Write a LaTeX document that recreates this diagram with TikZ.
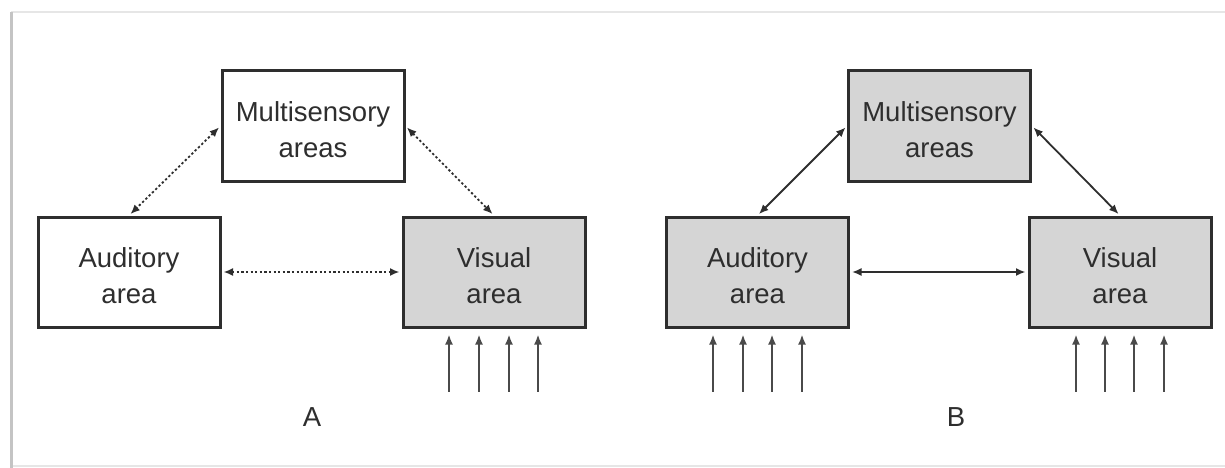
\documentclass[tikz,border=0pt]{standalone}
\usepackage{fontspec}
\setmainfont{Liberation Sans}
\usetikzlibrary{arrows.meta,calc}
\definecolor{ink}{HTML}{2E2E2E}
\definecolor{boxgray}{HTML}{D5D5D5}
\definecolor{framegray}{HTML}{C4C4C4}
\definecolor{framelight}{HTML}{E6E6E6}
\definecolor{inputgray}{HTML}{4A4A4A}
\tikzset{
  area/.style={draw=ink, line width=3pt, rectangle, minimum width=182pt, minimum height=110pt, inner sep=0pt},
  shaded/.style={area, fill=boxgray},
  plain/.style={area, fill=white},
  boxtext/.style={align=center, text=ink, font=\fontsize{27.5}{36}\selectfont, inner sep=0pt},
  tip/.style={-{Latex[length=10pt,width=8pt]}},
  dottedlink/.style={{Latex[length=9.5pt,width=8pt]}-{Latex[length=9.5pt,width=8pt]}, draw=ink, line width=1.8pt, dash pattern=on 2.3pt off 2.3pt, shorten <=2pt, shorten >=2pt},
  solidlink/.style={{Latex[length=9.5pt,width=8pt]}-{Latex[length=9.5pt,width=8pt]}, draw=ink, line width=1.8pt, shorten <=2pt, shorten >=2pt},
  input/.style={tip, draw=inputgray, line width=1.9pt},
  panel/.style={text=ink, font=\fontsize{27.5}{30}\selectfont}
}
\begin{document}
\begin{tikzpicture}[x=1pt,y=-1pt]
\useasboundingbox (0,0) rectangle (1225,468);
% frame
\draw[framelight, line width=1.5pt] (11,12) -- (1225,12);
\draw[framelight, line width=1.5pt] (11,466) -- (1225,466);
\draw[framegray, line width=3pt] (11,12) -- (11,468);

% Panel A
\node[plain] (mA) at (313,126) {};
\node[plain] (aA) at (129,272) {};
\node[shaded] (vA) at (494,272) {};
\node[boxtext] (mAt) at ($(mA.center)+(0,4)$) {Multisensory\\areas};
\node[boxtext] (aAt) at ($(aA.center)+(0,4)$) {Auditory\\area};
\node[boxtext] (vAt) at ($(vA.center)+(0,4)$) {Visual\\area};
\draw[dottedlink] (mA.west) -- (aA.north);
\draw[dottedlink] (mA.east) -- (vA.north);
\draw[dottedlink] (aA.east) -- (vA.west);
\foreach \i/\dx in {1/-45,2/-15,3/15,4/44}{
  \coordinate (vAin\i) at ($(vA.south)+(\dx,63)$);
  \coordinate (vAtip\i) at ($(vA.south)+(\dx,6)$);
  \draw[input] (vAin\i) -- (vAtip\i);
}
\node[panel] (labA) at (312,417) {A};

% Panel B
\node[shaded] (mB) at (939.5,126) {};
\node[shaded] (aB) at (757.5,272) {};
\node[shaded] (vB) at (1120,272) {};
\node[boxtext] (mBt) at ($(mB.center)+(0,4)$) {Multisensory\\areas};
\node[boxtext] (aBt) at ($(aB.center)+(0,4)$) {Auditory\\area};
\node[boxtext] (vBt) at ($(vB.center)+(0,4)$) {Visual\\area};
\draw[solidlink] (mB.west) -- (aB.north);
\draw[solidlink] (mB.east) -- (vB.north);
\draw[solidlink] (aB.east) -- (vB.west);
\foreach \i/\dx in {1/-44.5,2/-14.5,3/14.5,4/44.5}{
  \coordinate (aBin\i) at ($(aB.south)+(\dx,63)$);
  \coordinate (aBtip\i) at ($(aB.south)+(\dx,6)$);
  \draw[input] (aBin\i) -- (aBtip\i);
}
\foreach \i/\dx in {1/-44,2/-15,3/14,4/44}{
  \coordinate (vBin\i) at ($(vB.south)+(\dx,63)$);
  \coordinate (vBtip\i) at ($(vB.south)+(\dx,6)$);
  \draw[input] (vBin\i) -- (vBtip\i);
}
\node[panel] (labB) at (956,417) {B};
\end{tikzpicture}
\end{document}
